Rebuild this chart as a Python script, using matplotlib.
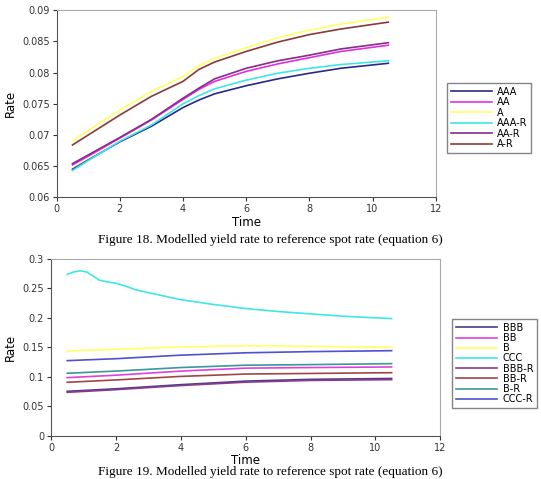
import matplotlib
matplotlib.use("Agg")
import matplotlib.pyplot as plt

# 時間軸（両図共通）
t_top = [0.5, 1, 2, 3, 4, 4.5, 5, 6, 7, 8, 9, 10.5]

# Figure 18 の系列
aaa   = [0.0645, 0.0660, 0.0689, 0.0714, 0.0744, 0.0756, 0.0766, 0.0779, 0.0790, 0.0799, 0.0807, 0.0815]
aa    = [0.0652, 0.0666, 0.0695, 0.0724, 0.0757, 0.0773, 0.0786, 0.0802, 0.0814, 0.0824, 0.0834, 0.0844]
a     = [0.0691, 0.0707, 0.0740, 0.0770, 0.0794, 0.0811, 0.0823, 0.0840, 0.0856, 0.0868, 0.0878, 0.0889]
aaa_r = [0.0643, 0.0659, 0.0690, 0.0716, 0.0750, 0.0763, 0.0774, 0.0788, 0.0799, 0.0807, 0.0813, 0.0819]
aa_r  = [0.0654, 0.0668, 0.0696, 0.0725, 0.0759, 0.0775, 0.0790, 0.0807, 0.0819, 0.0828, 0.0838, 0.0848]
a_r   = [0.0684, 0.0700, 0.0732, 0.0762, 0.0786, 0.0805, 0.0817, 0.0834, 0.0849, 0.0861, 0.0870, 0.0881]
top_labels = ['AAA', 'AA', 'A', 'AAA-R', 'AA-R', 'A-R']
top_colors = ['#2a2a85', '#e030e0', '#ffff66', '#40e6e6', '#8a2a8a', '#8b3a3a']

# Figure 19 の系列
t_bot = [0.5, 2, 4, 6, 8, 10.5]
bbb   = [0.0757, 0.0800, 0.0870, 0.0930, 0.0960, 0.0975]
bb    = [0.0989, 0.1030, 0.1100, 0.1150, 0.1160, 0.1170]
b     = [0.1441, 0.1470, 0.1510, 0.1530, 0.1520, 0.1503]
bbb_r = [0.0740, 0.0785, 0.0855, 0.0912, 0.0942, 0.0955]
bb_r  = [0.0910, 0.0950, 0.1010, 0.1050, 0.1060, 0.1073]
b_r   = [0.1063, 0.1100, 0.1160, 0.1200, 0.1210, 0.1226]
ccc_r = [0.1277, 0.1310, 0.1370, 0.1410, 0.1430, 0.1446]
t_ccc = [0.5, 0.7, 0.9, 1.1, 1.3, 1.5, 1.75, 2.0, 2.3, 2.6, 3.0, 3.5, 4, 5, 6, 7, 8, 9, 10.5]
ccc   = [0.274, 0.278, 0.280, 0.278, 0.271, 0.264, 0.261, 0.259, 0.254, 0.248,
         0.243, 0.237, 0.231, 0.223, 0.216, 0.211, 0.207, 0.203, 0.199]
bot_labels = ['BBB', 'BB', 'B', 'CCC', 'BBB-R', 'BB-R', 'B-R', 'CCC-R']
bot_colors = ['#4b3a8c', '#e040e0', '#ffff66', '#40e6e6', '#8a3a8a', '#a04545', '#3a9898', '#5050d0']

fig = plt.figure(figsize=(5.41, 4.79), dpi=100)


def style_axes(ax):
    for side in ['top', 'right']:
        ax.spines[side].set_color('#aaaaaa')
    for side in ['left', 'bottom']:
        ax.spines[side].set_color('#555555')
    ax.tick_params(labelsize=7, colors='#333333', length=3, direction='out',
                   top=False, right=False, pad=2)
    ax.set_xlim(0, 12)
    ax.set_xticks([0, 2, 4, 6, 8, 10, 12])
    ax.set_xlabel('Time', fontsize=8.5, labelpad=1)
    ax.set_ylabel('Rate', fontsize=8.5, labelpad=4)


# --- 上段 ---
ax1 = fig.add_axes([0.1048, 0.5881, 0.7006, 0.3904])
for ys, lab, c in zip([aaa, aa, a, aaa_r, aa_r, a_r], top_labels, top_colors):
    ax1.plot(t_top, ys, color=c, lw=1.2, label=lab)
ax1.set_ylim(0.06, 0.09)
ax1.set_yticks([0.06, 0.065, 0.07, 0.075, 0.08, 0.085, 0.09])
ax1.set_yticklabels(['0.06', '0.065', '0.07', '0.075', '0.08', '0.085', '0.09'])
style_axes(ax1)
ax1.legend(loc='upper left', bbox_to_anchor=(447 / 541, 1 - 83 / 479),
           bbox_transform=fig.transFigure, fontsize=7, frameon=True, fancybox=False,
           edgecolor='#666666', labelspacing=0.05, handlelength=4.2,
           handletextpad=0.5, borderpad=0.4, borderaxespad=0)

# --- 下段 ---
ax2 = fig.add_axes([0.0943, 0.0898, 0.7195, 0.3695])
bot_series = [(t_bot, bbb), (t_bot, bb), (t_bot, b), (t_ccc, ccc),
              (t_bot, bbb_r), (t_bot, bb_r), (t_bot, b_r), (t_bot, ccc_r)]
for (xs, ys), lab, c in zip(bot_series, bot_labels, bot_colors):
    ax2.plot(xs, ys, color=c, lw=1.2, label=lab)
ax2.set_ylim(0, 0.3)
ax2.set_yticks([0, 0.05, 0.1, 0.15, 0.2, 0.25, 0.3])
ax2.set_yticklabels(['0', '0.05', '0.1', '0.15', '0.2', '0.25', '0.3'])
style_axes(ax2)
ax2.legend(loc='upper left', bbox_to_anchor=(452 / 541, 1 - 319 / 479),
           bbox_transform=fig.transFigure, fontsize=7, frameon=True, fancybox=False,
           edgecolor='#666666', labelspacing=0.02, handlelength=4.2,
           handletextpad=0.6, borderpad=0.4, borderaxespad=0)

# キャプション
fig.text(0.5, 1 - 240 / 479, 'Figure 18. Modelled yield rate to reference spot rate (equation 6)',
         ha='center', va='center', fontsize=9.5, family='Liberation Serif')
fig.text(0.5, 1 - 478 / 479, 'Figure 19. Modelled yield rate to reference spot rate (equation 6)',
         ha='center', va='bottom', fontsize=9.5, family='Liberation Serif')

fig.savefig('out.png', dpi=100)
